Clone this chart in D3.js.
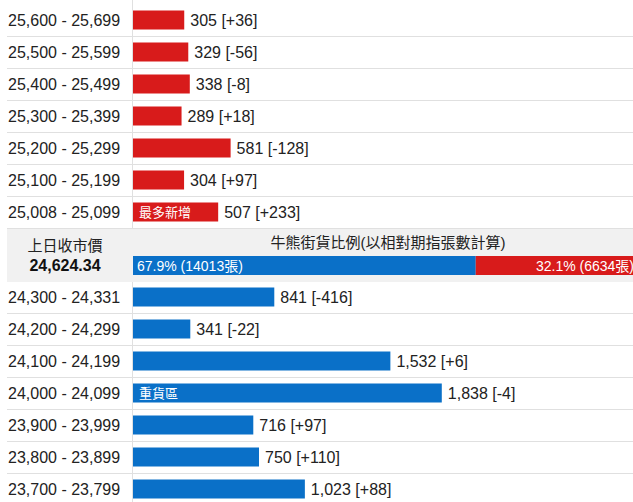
<!DOCTYPE html>
<html>
<head>
<meta charset="utf-8">
<script src="https://cdn.jsdelivr.net/npm/d3@7"></script>
<style>
  body { margin: 0; background: #fff; }
  svg { display: block; font-family: "Liberation Sans", Arial, "Noto Sans CJK TC", sans-serif; }
</style>
</head>
<body>
<div id="chart"></div>
<script>
// upper strikes (bear side, red)
var upperRanges = ['25,600 - 25,699', '25,500 - 25,599', '25,400 - 25,499', '25,300 - 25,399', '25,200 - 25,299', '25,100 - 25,199', '25,008 - 25,099'];
var upperValues = [305, 329, 338, 289, 581, 304, 507];
var upperChanges = [36, -56, -8, 18, -128, 97, 233];
var upperTags = ['', '', '', '', '', '', '最多新增'];

// lower strikes (bull side, blue)
var lowerRanges = ['24,300 - 24,331', '24,200 - 24,299', '24,100 - 24,199', '24,000 - 24,099', '23,900 - 23,999', '23,800 - 23,899', '23,700 - 23,799'];
var lowerValues = [841, 341, 1532, 1838, 716, 750, 1023];
var lowerChanges = [-416, -22, 6, -4, 97, 110, 88];
var lowerTags = ['', '', '', '重貨區', '', '', ''];

// bull / bear outstanding ratio
var ratioLabels = ['牛', '熊'];
var ratioCounts = [14013, 6634];
var prevCloseLabel = '上日收市價';
var prevClose = '24,624.34';
var ratioTitle = '牛熊街貨比例(以相對期指張數計算)';

(function() {

	var width = 633,
		height = 502,
		left = 7,
		axisX = 132,
		barX = 133,
		rowHeight = 32,
		barHeight = 19,
		bandTop = 229,
		bandHeight = 53,
		red = '#d81b1b',
		blue = '#0a70c8',
		textColor = '#222',
		lineColor = '#e0e0e0',
		fontSize = 16;

	var svg = d3.select('#chart').append('svg')
		.attr('width', width)
		.attr('height', height);

	var x = d3.scaleLinear()
		.domain([0, 3000])
		.range([0, 504]);

	var num = d3.format(',');

	//plain hyphen, d3 '+' format gives the unicode minus
	function sign(v) {
		return (v > 0 ? '+' : v < 0 ? '-' : '') + Math.abs(v);
	}

	function makeRows(ranges, values, changes, tags) {
		return ranges.map(function(r, i) {
			return { range: r, value: values[i], change: changes[i], tag: tags[i] };
		});
	}

	var upper = makeRows(upperRanges, upperValues, upperChanges, upperTags),
		lower = makeRows(lowerRanges, lowerValues, lowerChanges, lowerTags);

	// middle band background
	svg.append('rect')
		.attr('x', left)
		.attr('y', bandTop)
		.attr('width', width - left)
		.attr('height', bandHeight)
		.attr('fill', '#f1f1f1');

	// vertical divider
	svg.append('line')
		.attr('x1', axisX + 0.5).attr('x2', axisX + 0.5)
		.attr('y1', 0).attr('y2', bandTop)
		.attr('stroke', lineColor);
	svg.append('line')
		.attr('x1', axisX + 0.5).attr('x2', axisX + 0.5)
		.attr('y1', bandTop + bandHeight).attr('y2', height)
		.attr('stroke', lineColor);

	function drawSection(rows, top, color, className) {
		var g = svg.append('g').attr('class', className);

		var groups = g.selectAll('g')
			.data(rows)
			.enter()
				.append('g')
				.attr('transform', function(d, i) { return 'translate(0,' + (top + i * rowHeight) + ')'; });

		groups.append('line')
			.attr('x1', left).attr('x2', width)
			.attr('y1', rowHeight + 0.5).attr('y2', rowHeight + 0.5)
			.attr('stroke', lineColor);

		groups.append('text')
			.attr('x', left + 1)
			.attr('y', rowHeight / 2 + 6)
			.attr('fill', textColor)
			.attr('font-size', fontSize)
			.text(function(d) { return d.range; });

		groups.append('rect')
			.attr('x', barX)
			.attr('y', (rowHeight - barHeight) / 2)
			.attr('width', function(d) { return x(d.value); })
			.attr('height', barHeight)
			.attr('fill', color);

		groups.filter(function(d) { return d.tag; })
			.append('text')
			.attr('x', barX + 6)
			.attr('y', rowHeight / 2 + 5)
			.attr('fill', '#fff')
			.attr('font-size', 13)
			.text(function(d) { return d.tag; });

		groups.append('text')
			.attr('x', function(d) { return barX + x(d.value) + 6; })
			.attr('y', rowHeight / 2 + 6)
			.attr('fill', textColor)
			.attr('font-size', fontSize)
			.text(function(d) { return num(d.value) + ' [' + sign(d.change) + ']'; });
	}

	drawSection(upper, bandTop - upper.length * rowHeight - 1, red, 'upper');
	drawSection(lower, bandTop + bandHeight - 1, blue, 'lower');

	// previous close
	svg.append('text')
		.attr('x', 65)
		.attr('y', bandTop + 22)
		.attr('text-anchor', 'middle')
		.attr('fill', textColor)
		.attr('font-size', 15)
		.text(prevCloseLabel);
	svg.append('text')
		.attr('x', 65)
		.attr('y', bandTop + 42)
		.attr('text-anchor', 'middle')
		.attr('fill', '#111')
		.attr('font-size', 16)
		.attr('font-weight', 'bold')
		.text(prevClose);

	// ratio bar
	var total = d3.sum(ratioCounts),
		ratioWidth = 505,
		ratioX = d3.scaleLinear().domain([0, total]).range([0, ratioWidth]),
		ratioY = bandTop + 27,
		ratioH = 19,
		pct = d3.format('.1f');

	svg.append('text')
		.attr('x', barX + 255)
		.attr('y', bandTop + 19)
		.attr('text-anchor', 'middle')
		.attr('fill', textColor)
		.attr('font-size', 15)
		.text(ratioTitle);

	var offsets = [0, ratioCounts[0]];
	var ratio = svg.append('g').attr('class', 'ratio');

	ratio.selectAll('rect')
		.data(ratioCounts)
		.enter()
			.append('rect')
			.attr('x', function(d, i) { return barX + ratioX(offsets[i]); })
			.attr('y', ratioY)
			.attr('width', function(d) { return ratioX(d); })
			.attr('height', ratioH)
			.attr('fill', function(d, i) { return i === 0 ? blue : red; });

	ratio.selectAll('text')
		.data(ratioCounts)
		.enter()
			.append('text')
			.attr('x', function(d, i) { return i === 0 ? barX + 4 : barX + ratioWidth - 4; })
			.attr('y', ratioY + ratioH / 2 + 5)
			.attr('text-anchor', function(d, i) { return i === 0 ? 'start' : 'end'; })
			.attr('fill', '#fff')
			.attr('font-size', 14)
			.text(function(d) { return pct(d / total * 100) + '% (' + d + '張)'; });

}());
</script>
</body>
</html>
